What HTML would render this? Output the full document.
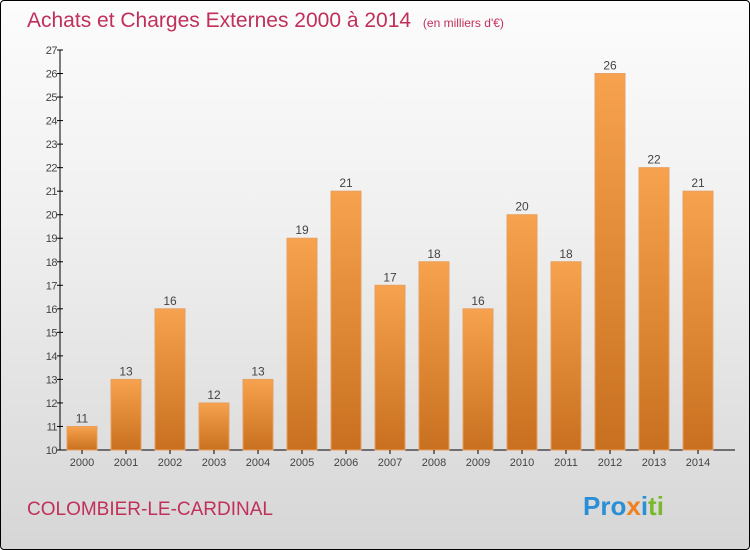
<!DOCTYPE html>
<html><head><meta charset="utf-8"><style>
html,body{margin:0;padding:0}
body{width:750px;height:550px;overflow:hidden;font-family:"Liberation Sans",sans-serif}
#frame{position:absolute;left:0;top:0;width:748px;height:548px;border:1px solid #000;border-radius:4px;background:linear-gradient(#fcfcfc 0%,#f0f0f0 40%,#d6d6d6 100%)}
</style></head><body>
<div id="frame">
<svg id="svg" width="750" height="550" style="position:absolute;left:-1px;top:-1px">
<defs><linearGradient id="bg" x1="0" y1="0" x2="0" y2="1"><stop offset="0" stop-color="#f7a24e"/><stop offset="1" stop-color="#c8701f"/></linearGradient></defs>
<text x="27" y="27" font-size="21" fill="#c0305a">Achats et Charges Externes 2000 à 2014 <tspan font-size="12" dx="6">(en milliers d'€)</tspan></text>
<text x="27" y="515" font-size="19" fill="#c0305a">COLOMBIER-LE-CARDINAL</text>
<text x="583" y="515" font-size="26" font-weight="bold"><tspan fill="#2a8fd6">Pro</tspan><tspan fill="#f08020">x</tspan><tspan fill="#2a8fd6">i</tspan><tspan fill="#7ab82e">ti</tspan></text>
<g id="plot"></g>
</svg></div>
<script>
const years=["2000","2001","2002","2003","2004","2005","2006","2007","2008","2009","2010","2011","2012","2013","2014"];
const values=[11,13,16,12,13,19,21,17,18,16,20,18,26,22,21];
const yTicks=[10,11,12,13,14,15,16,17,18,19,20,21,22,23,24,25,26,27];
const NS="http://www.w3.org/2000/svg";
const g=document.getElementById('plot');
const y=v=>450-(v-10)*(400/17);
const x=i=>82+i*44;
function el(t,a){const e=document.createElementNS(NS,t);for(const k in a)e.setAttribute(k,a[k]);g.appendChild(e);return e;}
const ax=el('line',{x1:60,y1:50,x2:60,y2:450,stroke:'#000'});


const bx=el('line',{x1:60,y1:450,x2:735,y2:450,stroke:'#000'});


yTicks.forEach(v=>{
 el('line',{x1:57,y1:y(v),x2:63,y2:y(v),stroke:'#000'});
 const t=el('text',{x:57,y:y(v)+4,'font-size':11,'text-anchor':'end',fill:'#444','letter-spacing':'-0.5'});
 t.textContent=v;
 
 
});
values.forEach((v,i)=>{
 const r=el('rect',{x:x(i)-15,y:y(v),width:30,height:450-y(v),fill:'url(#bg)',stroke:'#e8a060','stroke-width':1});
 
 
 const t=el('text',{x:x(i),y:y(v)-4,'font-size':12,'text-anchor':'middle',fill:'#444'});
 t.textContent=v;
 
 
 el('line',{x1:x(i),y1:450,x2:x(i),y2:454,stroke:'#000'});
 const l=el('text',{x:x(i),y:466,'font-size':11,'text-anchor':'middle',fill:'#444'});
 l.textContent=years[i];
 
 
});
</script>
</body></html>
